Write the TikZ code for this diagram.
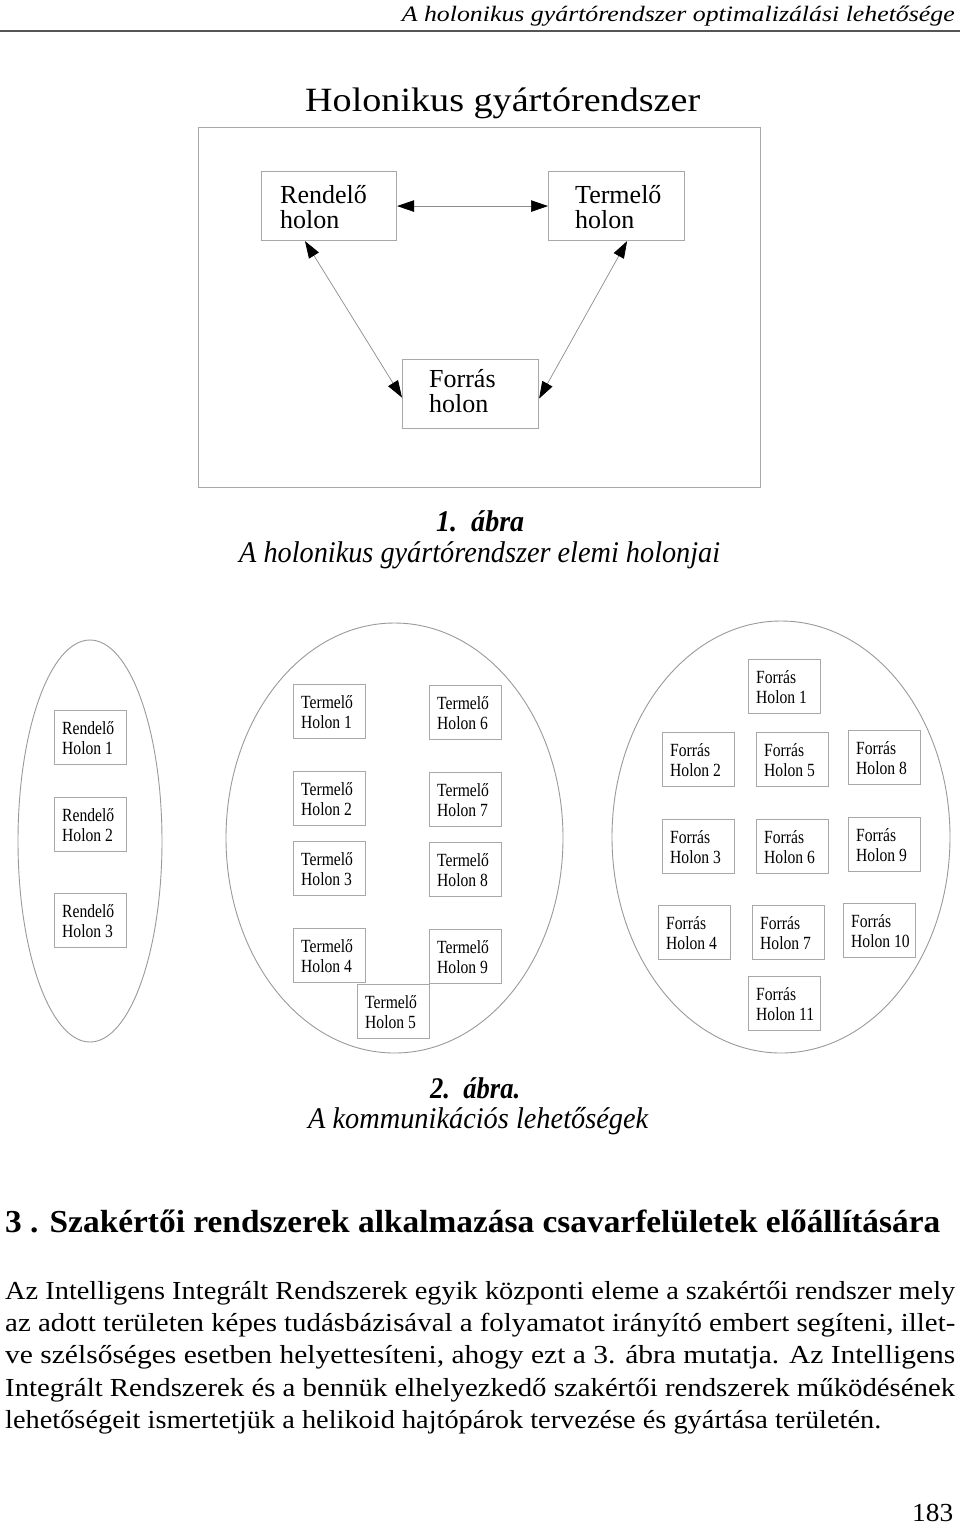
\documentclass[tikz,border=0pt]{standalone}
\usepackage{fontspec}
\setmainfont{Liberation Serif}
\newfontfamily\condfont[FakeStretch=0.84]{Liberation Serif}
\usepackage{graphicx}
\usetikzlibrary{arrows.meta,shapes.geometric}
\newcommand{\fitw}[2]{\resizebox{#1}{\height}{#2}}
\definecolor{boxgray}{HTML}{A8A8A8}
\definecolor{ellgray}{HTML}{9A9A9A}
\definecolor{linegray}{HTML}{8C8C8C}
\definecolor{rulegray}{HTML}{555555}
\begin{document}
\begin{tikzpicture}[x=1pt,y=-1pt,
  txt/.style={inner sep=0pt,anchor=base west},
  bigbox/.style={draw=boxgray,line width=1.1pt,anchor=north west,inner sep=0pt},
  smallbox/.style={draw=boxgray,line width=0.9pt,anchor=north west,inner sep=0pt,minimum width=72pt,minimum height=54pt},
  ell/.style={draw=ellgray,line width=0.9pt,ellipse,inner sep=0pt},
  bigtxt/.style={txt,font=\fontsize{26}{26}\selectfont},
  smalltxt/.style={txt,font=\condfont\fontsize{18.6}{20}\selectfont},
  bodytxt/.style={txt,font=\fontsize{26}{26}\selectfont},
  link/.style={draw=linegray,line width=0.7pt,{Triangle[length=17pt,width=11.5pt,black]}-{Triangle[length=17pt,width=11.5pt,black]}}
]
\useasboundingbox (0,0) rectangle (960,1524);
\fill[white] (0,0) rectangle (960,1524);

% running header
\node[inner sep=0pt,anchor=base east,font=\fontsize{22}{22}\selectfont\itshape] (hdr) at (955,21)
  {\fitw{553pt}{A holonikus gyártórendszer optimalizálási lehetősége}};
\coordinate (ruleL) at (0,31);
\coordinate (ruleR) at (960,31);
\draw[rulegray,line width=2.4pt] (ruleL) -- (ruleR);

% Figure 1
\node[txt,font=\fontsize{34}{34}\selectfont] (title) at (305,111) {\fitw{395pt}{Holonikus gyártórendszer}};
\node[draw=boxgray,line width=1.1pt,inner sep=0pt,anchor=north west,minimum width=562pt,minimum height=360pt] (frame) at (198,127) {};
\node[bigbox,minimum width=135pt,minimum height=69pt] (R) at (261,171) {};
\node[bigbox,minimum width=136pt,minimum height=69pt] (T) at (548,171) {};
\node[bigbox,minimum width=136pt,minimum height=69pt] (F) at (402,359) {};
\node[bigtxt] (Ra) at (280,203) {Rendelő};
\node[bigtxt] (Rb) at (280,228) {holon};
\node[bigtxt] (Ta) at (575,203) {Termelő};
\node[bigtxt] (Tb) at (575,228) {holon};
\node[bigtxt] (Fa) at (429,387) {Forrás};
\node[bigtxt] (Fb) at (429,412) {holon};
\draw[link] (R.east) -- (T.west);
\draw[link] ([xshift=44pt]R.south west) -- ([yshift=-3.5pt]F.west);
\draw[link] ([xshift=-58pt]T.south east) -- ([yshift=-4.5pt]F.east);

\node[txt,font=\fontsize{30}{30}\selectfont\bfseries\itshape] (cap1a) at (436,531) {\fitw{88pt}{1.\ \ ábra}};
\node[txt,font=\fontsize{30}{30}\selectfont\itshape] (cap1b) at (239,562) {\fitw{481pt}{A holonikus gyártórendszer elemi holonjai}};

% Figure 2
\node[ell,minimum width=144pt,minimum height=402pt] (E1) at (90,841) {};
\node[ell,minimum width=337pt,minimum height=430pt] (E2) at (394.5,838) {};
\node[ell,minimum width=338pt,minimum height=432pt] (E3) at (781,837) {};

\newcommand{\hbx}[4]{%
  \node[smallbox] (#1) at (#2) {};
  \node[smalltxt] (#1a) at ([shift={(8pt,-24pt)}]#1.north west) {#3};
  \node[smalltxt] (#1b) at ([shift={(8pt,-44pt)}]#1.north west) {#4};}

\hbx{R1}{54,710}{Rendelő}{Holon 1}
\hbx{R2}{54,797}{Rendelő}{Holon 2}
\hbx{R3}{54,893}{Rendelő}{Holon 3}

\hbx{T1}{293,684}{Termelő}{Holon 1}
\hbx{T2}{293,771}{Termelő}{Holon 2}
\hbx{T3}{293,841}{Termelő}{Holon 3}
\hbx{T4}{293,928}{Termelő}{Holon 4}
\hbx{T5}{357,984}{Termelő}{Holon 5}
\hbx{T6}{429,685}{Termelő}{Holon 6}
\hbx{T7}{429,772}{Termelő}{Holon 7}
\hbx{T8}{429,842}{Termelő}{Holon 8}
\hbx{T9}{429,929}{Termelő}{Holon 9}

\hbx{F1}{748,659}{Forrás}{Holon 1}
\hbx{F2}{662,732}{Forrás}{Holon 2}
\hbx{F5}{756,732}{Forrás}{Holon 5}
\hbx{F8}{848,730}{Forrás}{Holon 8}
\hbx{F3}{662,819}{Forrás}{Holon 3}
\hbx{F6}{756,819}{Forrás}{Holon 6}
\hbx{F9}{848,817}{Forrás}{Holon 9}
\hbx{F4}{658,905}{Forrás}{Holon 4}
\hbx{F7}{752,905}{Forrás}{Holon 7}
\hbx{F10}{843,903}{Forrás}{Holon 10}
\hbx{F11}{748,976}{Forrás}{Holon 11}

\node[txt,font=\fontsize{30}{30}\selectfont\bfseries\itshape] (cap2a) at (430,1098) {\fitw{90pt}{2.\ \ ábra.}};
\node[txt,font=\fontsize{30}{30}\selectfont\itshape] (cap2b) at (308,1128) {\fitw{340pt}{A kommunikációs lehetőségek}};

% Section text
\node[txt,font=\fontsize{32}{32}\selectfont\bfseries] (sec) at (5,1232) {\fitw{935pt}{3 . Szakértői rendszerek alkalmazása csavarfelületek előállítására}};
\node[bodytxt] (l1) at (5,1299) {\fitw{950pt}{Az Intelligens Integrált Rendszerek egyik központi eleme a szakértői rendszer mely}};
\node[bodytxt] (l2) at (5,1331) {\fitw{950pt}{az adott területen képes tudásbázisával a folyamatot irányító embert segíteni, illet-}};
\node[bodytxt] (l3) at (5,1363.5) {\fitw{950pt}{ve szélsőséges esetben helyettesíteni, ahogy ezt a 3. ábra mutatja. Az Intelligens}};
\node[bodytxt] (l4) at (5,1396) {\fitw{950pt}{Integrált Rendszerek és a bennük elhelyezkedő szakértői rendszerek működésének}};
\node[bodytxt] (l5) at (5,1428) {\fitw{876pt}{lehetőségeit ismertetjük a helikoid hajtópárok tervezése és gyártása területén.}};

\node[bodytxt] (pg) at (912,1521) {\fitw{41pt}{183}};
\end{tikzpicture}
\end{document}
